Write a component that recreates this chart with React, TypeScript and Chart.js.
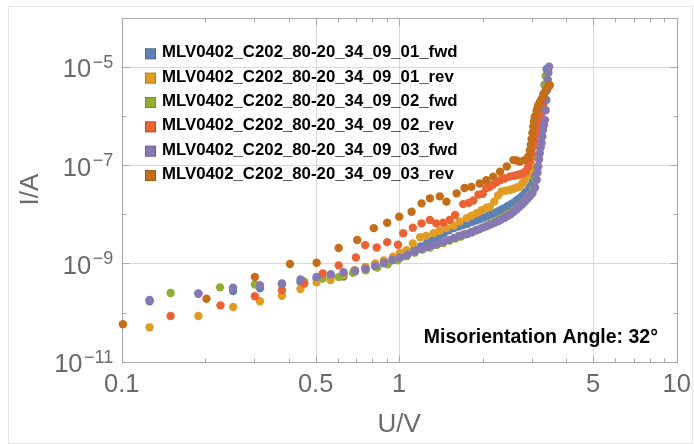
import { useEffect, useRef } from 'react';
import { Chart, registerables } from 'chart.js';

Chart.register(...registerables);

// ---------- data (U in V, I in A) ----------
const seriesNames = [
  'MLV0402_C202_80-20_34_09_01_fwd',
  'MLV0402_C202_80-20_34_09_01_rev',
  'MLV0402_C202_80-20_34_09_02_fwd',
  'MLV0402_C202_80-20_34_09_02_rev',
  'MLV0402_C202_80-20_34_09_03_fwd',
  'MLV0402_C202_80-20_34_09_03_rev',
];
const seriesColors = ['#5E81B5', '#E19C24', '#8FB032', '#EB6235', '#8778B3', '#C56E1A'];

const fwd01: [number, number][] = [
  [0.126, 1.7e-10], [0.189, 2.4e-10], [0.252, 2.75e-10], [0.315, 3.1e-10], [0.378, 3.8e-10],
  [0.441, 4.2e-10], [0.504, 5.0e-10], [0.567, 5.5e-10], [0.63, 5.4e-10], [0.693, 6.8e-10],
  [0.756, 7.6e-10], [0.819, 8.6e-10], [0.882, 1.0e-9], [0.945, 1.15e-9], [1.008, 1.35e-9],
  [1.071, 1.6e-9], [1.134, 1.9e-9], [1.197, 2.2e-9], [1.26, 2.6e-9], [1.323, 3.0e-9],
  [1.386, 3.5e-9], [1.449, 4.1e-9], [1.512, 4.7e-9], [1.575, 5.2e-9], [1.638, 5.6e-9],
  [1.701, 6.0e-9], [1.764, 6.4e-9], [1.827, 6.9e-9], [1.89, 7.4e-9], [1.953, 7.9e-9],
  [2.016, 8.5e-9], [2.079, 9.1e-9], [2.142, 9.8e-9], [2.205, 1.06e-8], [2.268, 1.14e-8],
  [2.331, 1.23e-8], [2.394, 1.33e-8], [2.457, 1.45e-8], [2.52, 1.58e-8], [2.583, 1.72e-8],
  [2.646, 1.9e-8], [2.709, 2.1e-8], [2.772, 2.35e-8], [2.835, 2.65e-8], [2.898, 3.0e-8],
  [2.961, 3.6e-8], [3.024, 4.5e-8], [3.07, 6.0e-8], [3.1, 9.0e-8], [3.13, 1.5e-7],
  [3.16, 2.5e-7], [3.19, 4.3e-7], [3.22, 7.0e-7], [3.25, 1.1e-6], [3.28, 1.8e-6],
  [3.31, 2.8e-6], [3.34, 4.3e-6], [3.37, 6.5e-6], [3.4, 9.0e-6],
];

const rev01: [number, number][] = [
  [0.126, 5.0e-11], [0.189, 8.5e-11], [0.252, 1.3e-10], [0.315, 1.7e-10], [0.378, 2.2e-10],
  [0.441, 3.0e-10], [0.504, 4.1e-10], [0.566, 4.6e-10], [0.63, 5.8e-10], [0.69, 7.3e-10],
  [0.756, 8.5e-10], [0.82, 1.0e-9], [0.88, 1.15e-9], [0.95, 1.36e-9], [1.006, 1.64e-9],
  [1.063, 1.86e-9], [1.12, 2.55e-9], [1.19, 3.4e-9], [1.25, 3.6e-9], [1.33, 4.1e-9],
  [1.4, 4.6e-9], [1.48, 5.2e-9], [1.57, 5.9e-9], [1.65, 7.1e-9], [1.75, 8.3e-9],
  [1.82, 9.3e-9], [1.9, 1.05e-8], [1.98, 1.2e-8], [2.06, 1.35e-8], [2.12, 1.4e-8],
  [2.2, 1.8e-8], [2.27, 2.4e-8], [2.34, 2.9e-8], [2.42, 3.0e-8], [2.5, 3.1e-8],
  [2.58, 3.3e-8], [2.65, 3.5e-8], [2.72, 3.6e-8], [2.78, 4.2e-8], [2.83, 4.9e-8],
  [2.9, 6.2e-8], [2.96, 7.9e-8], [2.98, 1.1e-7], [3.0, 1.48e-7], [3.02, 2.2e-7],
  [3.04, 3.2e-7], [3.06, 4.8e-7], [3.08, 7.1e-7], [3.11, 9.5e-7], [3.13, 1.2e-6],
  [3.16, 1.6e-6],
];

const fwd02: [number, number][] = [
  [0.15, 2.5e-10], [0.226, 3.25e-10], [0.302, 3.7e-10], [0.378, 3.75e-10], [0.454, 4.3e-10],
  [0.53, 4.9e-10], [0.606, 5.3e-10], [0.682, 6.4e-10], [0.758, 7.2e-10], [0.834, 8.2e-10],
  [0.91, 9.6e-10], [0.986, 1.15e-9], [1.062, 1.4e-9], [1.138, 1.65e-9], [1.214, 1.9e-9],
  [1.29, 2.1e-9], [1.366, 2.35e-9], [1.442, 2.6e-9], [1.518, 2.9e-9], [1.594, 3.2e-9],
  [1.67, 3.5e-9], [1.746, 3.9e-9], [1.822, 4.3e-9], [1.898, 4.7e-9], [1.974, 5.2e-9],
  [2.05, 5.7e-9], [2.126, 6.3e-9], [2.202, 7.0e-9], [2.278, 7.7e-9], [2.354, 8.5e-9],
  [2.43, 9.5e-9], [2.506, 1.05e-8], [2.582, 1.18e-8], [2.658, 1.33e-8], [2.734, 1.5e-8],
  [2.81, 1.75e-8], [2.886, 2.05e-8], [2.962, 2.5e-8], [3.038, 3.2e-8], [3.1, 5.0e-8],
  [3.14, 8.0e-8], [3.17, 1.4e-7], [3.2, 2.5e-7], [3.23, 4.5e-7], [3.26, 8.0e-7],
  [3.29, 1.4e-6], [3.32, 2.5e-6], [3.35, 4.2e-6], [3.38, 6.5e-6],
];

const rev02: [number, number][] = [
  [0.15, 8.5e-11], [0.227, 1.4e-10], [0.302, 2.15e-10], [0.378, 2.85e-10], [0.455, 3.9e-10],
  [0.53, 6.2e-10], [0.605, 9.1e-10], [0.698, 1.32e-9], [0.754, 2.35e-9], [0.83, 2.1e-9],
  [0.905, 2.7e-9], [0.99, 2.4e-9], [1.034, 4.1e-9], [1.12, 5.3e-9], [1.204, 6.5e-9],
  [1.29, 7.6e-9], [1.36, 6.5e-9], [1.44, 6.7e-9], [1.52, 7.6e-9], [1.59, 9.6e-9],
  [1.7, 1.6e-8], [1.78, 1.7e-8], [1.85, 1.9e-8], [1.93, 2.5e-8], [2.0, 2.6e-8],
  [2.06, 3.4e-8], [2.12, 3.6e-8], [2.18, 4.0e-8], [2.25, 4.5e-8], [2.31, 4.9e-8],
  [2.4, 5.3e-8], [2.5, 5.8e-8], [2.58, 6.0e-8], [2.65, 6.2e-8], [2.72, 6.5e-8],
  [2.8, 6.8e-8], [2.86, 7.5e-8], [2.92, 9.3e-8], [2.96, 1.25e-7], [3.0, 1.73e-7],
  [3.04, 2.4e-7], [3.08, 3.2e-7], [3.12, 4.4e-7], [3.17, 6.0e-7], [3.21, 8.2e-7],
  [3.26, 1.13e-6], [3.3, 1.5e-6], [3.33, 1.9e-6],
];

const fwd03: [number, number][] = [
  [0.126, 1.8e-10], [0.189, 2.45e-10], [0.252, 3.2e-10], [0.315, 3.6e-10], [0.378, 3.9e-10],
  [0.441, 4.7e-10], [0.504, 5.3e-10], [0.567, 6.0e-10], [0.63, 6.6e-10], [0.693, 7.1e-10],
  [0.756, 7.8e-10], [0.819, 8.9e-10], [0.882, 1.03e-9], [0.945, 1.18e-9], [1.008, 1.3e-9],
  [1.071, 1.5e-9], [1.134, 1.72e-9], [1.197, 1.95e-9], [1.26, 2.15e-9], [1.323, 2.35e-9],
  [1.386, 2.55e-9], [1.449, 2.8e-9], [1.512, 3.0e-9], [1.575, 3.3e-9], [1.638, 3.6e-9],
  [1.701, 3.85e-9], [1.764, 4.0e-9], [1.827, 4.3e-9], [1.89, 4.7e-9], [1.953, 5.0e-9],
  [2.016, 5.4e-9], [2.079, 5.8e-9], [2.142, 6.2e-9], [2.205, 6.7e-9], [2.268, 7.2e-9],
  [2.331, 7.8e-9], [2.394, 8.4e-9], [2.457, 9.2e-9], [2.52, 1.0e-8], [2.583, 1.1e-8],
  [2.646, 1.25e-8], [2.709, 1.4e-8], [2.772, 1.58e-8], [2.835, 1.8e-8], [2.898, 2.05e-8],
  [2.961, 2.35e-8], [3.024, 2.7e-8], [3.087, 3.5e-8], [3.13, 5.0e-8], [3.15, 7.0e-8],
  [3.17, 9.3e-8], [3.19, 1.3e-7], [3.21, 1.73e-7], [3.235, 2.3e-7], [3.26, 2.8e-7],
  [3.28, 3.8e-7], [3.3, 5.2e-7], [3.325, 6.5e-7], [3.35, 8.2e-7], [3.37, 1.3e-6],
  [3.39, 2.1e-6], [3.41, 3.3e-6], [3.43, 5.4e-6], [3.45, 7.5e-6], [3.47, 1.0e-5],
];

const rev03: [number, number][] = [
  [0.101, 5.8e-11], [0.202, 1.9e-10], [0.302, 5.3e-10], [0.404, 9.7e-10], [0.504, 1.03e-9],
  [0.605, 2.05e-9], [0.706, 2.98e-9], [0.81, 5.2e-9], [0.905, 6.7e-9], [1.0, 8.9e-9],
  [1.108, 1.12e-8], [1.204, 1.66e-8], [1.29, 2.1e-8], [1.4, 2.3e-8], [1.48, 1.8e-8],
  [1.61, 2.65e-8], [1.72, 3.4e-8], [1.82, 3.6e-8], [1.95, 4.2e-8], [2.06, 4.9e-8],
  [2.18, 5.8e-8], [2.31, 7.3e-8], [2.44, 9.3e-8], [2.58, 1.26e-7], [2.65, 1.24e-7],
  [2.72, 1.17e-7], [2.83, 1.26e-7], [2.92, 1.5e-7], [2.96, 2.0e-7], [2.98, 2.6e-7],
  [3.0, 3.4e-7], [3.02, 4.5e-7], [3.04, 6.0e-7], [3.06, 7.8e-7], [3.08, 9.6e-7],
  [3.13, 1.3e-6], [3.17, 1.6e-6], [3.21, 1.9e-6], [3.26, 2.2e-6], [3.3, 2.5e-6],
  [3.34, 2.9e-6], [3.38, 3.4e-6], [3.44, 3.9e-6], [3.49, 4.2e-6],
];

const allSeries = [fwd01, rev01, fwd02, rev02, fwd03, rev03];

// ---------- axes decoration ----------
const xRange = [0.1, 10];
const yRange = [1e-11, 1e-4];
const xTickValues = [0.1, 0.5, 1, 5, 10];
const xTickLabels = ['0.1', '0.5', '1', '5', '10'];
const xMinorTicks = [0.2, 0.3, 0.4, 0.6, 0.7, 0.8, 0.9, 2, 3, 4, 6, 7, 8, 9];
const yTickValues = [1e-11, 1e-9, 1e-7, 1e-5];
const yTickExponents = ['\u221211', '\u22129', '\u22127', '\u22125'];
const yMinorTicks = [1e-10, 1e-8, 1e-6];
const xGridValues = [0.5, 1, 5];
const yGridValues = [1e-9, 1e-7, 1e-5];
const xTitle = 'U/V';
const yTitle = 'I/A';
const annotation = 'Misorientation Angle: 32\u00B0';

const FONT = '"Liberation Sans", Arial, Helvetica, sans-serif';
const LABEL_GRAY = '#6a6a6a';
const FRAME = '#a9a9a9';

const decor = {
  id: 'decor',
  beforeDatasetsDraw(chart: any) {
    const { ctx, chartArea: a } = chart;
    const xs = chart.scales.x;
    const ys = chart.scales.y;
    ctx.save();
    // outer image border
    ctx.strokeStyle = '#e6e6e6';
    ctx.lineWidth = 1;
    ctx.strokeRect(8.5, 6.5, 684, 437);
    // grid
    ctx.strokeStyle = '#d9d9d9';
    ctx.beginPath();
    xGridValues.forEach((v) => {
      const p = Math.round(xs.getPixelForValue(v)) + 0.5;
      ctx.moveTo(p, a.top);
      ctx.lineTo(p, a.bottom);
    });
    yGridValues.forEach((v) => {
      const p = Math.round(ys.getPixelForValue(v)) + 0.5;
      ctx.moveTo(a.left, p);
      ctx.lineTo(a.right, p);
    });
    ctx.stroke();
    // frame
    ctx.strokeStyle = FRAME;
    const L = Math.round(a.left) + 0.5, R = Math.round(a.right) + 0.5;
    const T = Math.round(a.top) + 0.5, B = Math.round(a.bottom) + 0.5;
    ctx.strokeRect(L, T, R - L, B - T);
    // ticks
    ctx.beginPath();
    const xt = (v: number, len: number) => {
      const p = Math.round(xs.getPixelForValue(v)) + 0.5;
      ctx.moveTo(p, B); ctx.lineTo(p, B - len);
      ctx.moveTo(p, T); ctx.lineTo(p, T + len);
    };
    const yt = (v: number, len: number) => {
      const p = Math.round(ys.getPixelForValue(v)) + 0.5;
      ctx.moveTo(L, p); ctx.lineTo(L + len, p);
      ctx.moveTo(R, p); ctx.lineTo(R - len, p);
    };
    xTickValues.forEach((v) => xt(v, 7));
    xMinorTicks.forEach((v) => xt(v, 4));
    yTickValues.forEach((v) => yt(v, 7));
    yMinorTicks.forEach((v) => yt(v, 4));
    ctx.stroke();
    ctx.restore();
  },
  afterDatasetsDraw(chart: any) {
    const { ctx, chartArea: a } = chart;
    const xs = chart.scales.x;
    const ys = chart.scales.y;
    ctx.save();
    ctx.fillStyle = LABEL_GRAY;
    // x tick labels
    ctx.font = `25.5px ${FONT}`;
    ctx.textAlign = 'center';
    ctx.textBaseline = 'alphabetic';
    xTickValues.forEach((v, i) => {
      ctx.fillText(xTickLabels[i], xs.getPixelForValue(v), a.bottom + 30.5);
    });
    // y tick labels 10^e
    const rightEdge = a.left - 8.5;
    yTickValues.forEach((v, i) => {
      const py = ys.getPixelForValue(v);
      ctx.textAlign = 'right';
      ctx.font = `18px ${FONT}`;
      const sup = yTickExponents[i];
      const sw = ctx.measureText(sup).width;
      ctx.fillText(sup, rightEdge, py + 1);
      ctx.font = `25.5px ${FONT}`;
      ctx.fillText('10', rightEdge - sw - 1.5, py + 10.5);
    });
    // axis titles
    ctx.font = `26px ${FONT}`;
    ctx.textAlign = 'center';
    ctx.fillText(xTitle, (a.left + a.right) / 2, a.bottom + 70.5);
    ctx.save();
    ctx.translate(37.5, (a.top + a.bottom) / 2);
    ctx.rotate(-Math.PI / 2);
    ctx.fillText(yTitle, 0, 0);
    ctx.restore();
    // legend
    ctx.font = `bold 16.8px ${FONT}`;
    ctx.textAlign = 'left';
    seriesNames.forEach((name, i) => {
      const base = 57.3 + i * 24.35;
      ctx.fillStyle = seriesColors[i];
      ctx.fillRect(145, base - 9, 11, 11);
      ctx.strokeStyle = 'rgba(0,0,0,0.25)';
      ctx.lineWidth = 0.8;
      ctx.strokeRect(145.4, base - 8.6, 10.2, 10.2);
      ctx.fillStyle = '#000';
      ctx.fillText(name, 162, base);
    });
    // annotation
    ctx.font = `bold 19.5px ${FONT}`;
    ctx.textAlign = 'right';
    ctx.fillStyle = '#000';
    ctx.fillText(annotation, 658, 343.3);
    ctx.restore();
  },
};

export default function App() {
  const ref = useRef<HTMLCanvasElement>(null);
  useEffect(() => {
    if (!ref.current) return;
    const chart = new Chart(ref.current, {
      type: 'scatter',
      data: {
        datasets: allSeries.map((s, i) => ({
          label: seriesNames[i],
          data: s.map(([u, c]) => ({ x: u, y: c })),
          backgroundColor: seriesColors[i],
          borderColor: seriesColors[i],
          borderWidth: 0,
          pointRadius: 4.2,
          pointHoverRadius: 4.2,
          order: allSeries.length - i,
          clip: 6,
        })),
      },
      options: {
        responsive: false,
        animation: false,
        events: [],
        layout: { padding: { left: 121.7, right: 17.3, top: 17.5, bottom: 82.3 } },
        plugins: { legend: { display: false }, tooltip: { enabled: false } },
        scales: {
          x: { type: 'logarithmic', min: xRange[0], max: xRange[1], display: false },
          y: { type: 'logarithmic', min: yRange[0], max: yRange[1], display: false },
        },
      },
      plugins: [decor],
    });
    return () => chart.destroy();
  }, []);
  return (
    <div style={{ position: 'fixed', left: 0, top: 0, width: 694, height: 444, background: '#fff' }}>
      <canvas ref={ref} width={694} height={444} style={{ display: 'block' }} />
    </div>
  );
}
